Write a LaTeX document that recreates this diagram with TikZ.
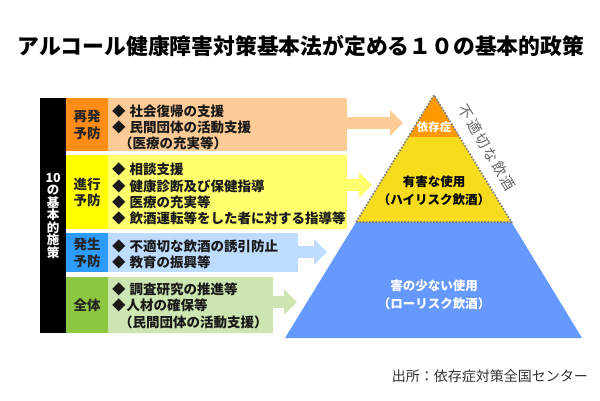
\documentclass[tikz,border=0pt]{standalone}
\usepackage{fontspec}
\setmainfont{Noto Sans CJK JP}
\usetikzlibrary{arrows.meta,calc}
\definecolor{lorange}{RGB}{253,203,150}
\definecolor{dorange}{RGB}{255,140,20}
\definecolor{lyellow}{RGB}{255,255,110}
\definecolor{dyellow}{RGB}{255,255,0}
\definecolor{lblue}{RGB}{190,220,255}
\definecolor{dblue}{RGB}{46,155,255}
\definecolor{lgreen}{RGB}{205,229,176}
\definecolor{dgreen}{RGB}{141,198,63}
\definecolor{porange}{RGB}{255,153,0}
\definecolor{pyellow}{RGB}{247,220,30}
\definecolor{pblue}{RGB}{102,153,255}
\definecolor{dotgray}{RGB}{130,130,130}
\tikzset{
  lab/.style={rectangle, inner sep=0pt, anchor=north west, align=center,
    font=\bfseries\fontsize{13.5}{16.5}\selectfont, text=black!85},
  lightbox/.style={rectangle, inner sep=0pt, anchor=north west},
  item/.style={anchor=west, inner sep=0pt, font=\bfseries\fontsize{13.5}{15}\selectfont, text=black!90},
  barrow/.style={line width=12pt, -{Triangle[width=25pt,length=13pt]}},
  plab/.style={inner sep=0pt, align=center, font=\bfseries\fontsize{12.5}{17.6}\selectfont},
  dotline/.style={draw=dotgray, line width=1.8pt, dash pattern=on 1.6pt off 1.6pt},
  slant/.style={inner sep=0pt, rotate=-59.4, text=black!60, font=\fontsize{14.5}{16}\selectfont}
}
\begin{document}
\begin{tikzpicture}[x=1pt,y=-1pt]
\useasboundingbox (0,0) rectangle (600,400);
\fill[white] (0,0) rectangle (600,400);

% title
\node[inner sep=0pt, font=\bfseries\fontsize{21.8}{24}\selectfont] (title) at (301,46)
  {アルコール健康障害対策基本法が定める１０の基本的政策};

% left black bar
\node[lightbox, fill=black, minimum width=26pt, minimum height=235pt, text=white,
  align=center, font=\bfseries\fontsize{12.5}{12.5}\selectfont] (bar) at (40,98)
  {10\\の\\基\\本\\的\\施\\策};

% light boxes
\node[lightbox, fill=lorange, minimum width=239pt, minimum height=53pt] (lo) at (108,98) {};
\node[lightbox, fill=lyellow, minimum width=239pt, minimum height=74pt] (ly) at (108,155) {};
\node[lightbox, fill=lblue, minimum width=190pt, minimum height=39pt] (lb) at (108,233) {};
\node[lightbox, fill=lgreen, minimum width=165pt, minimum height=56pt] (lg) at (108,277) {};

% label boxes
\node[lab, fill=dorange, minimum width=42pt, minimum height=53pt] (ro) at (66,98) {再発\\予防};
\node[lab, fill=dyellow, minimum width=42pt, minimum height=74pt] (ry) at (66,155) {進行\\予防};
\node[lab, fill=dblue, minimum width=42pt, minimum height=39pt] (rb) at (66,233) {発生\\予防};
\node[lab, fill=dgreen, minimum width=42pt, minimum height=56pt] (rg) at (66,277) {全体};

% items
\node[item] (o1) at (112,111) {◆\hspace{4pt}社会復帰の支援};
\node[item] (o2) at (112,127) {◆\hspace{4pt}民間団体の活動支援};
\node[item] (o3) at (119,143) {（医療の充実等）};
\node[item] (y1) at (112,169) {◆\hspace{4pt}相談支援};
\node[item] (y2) at (112,186) {◆\hspace{4pt}健康診断及び保健指導};
\node[item] (y3) at (112,202) {◆\hspace{4pt}医療の充実等};
\node[item] (y4) at (112,218) {◆\hspace{4pt}飲酒運転等をした者に対する指導等};
\node[item] (b1) at (112,246) {◆\hspace{4pt}不適切な飲酒の誘引防止};
\node[item] (b2) at (112,262) {◆\hspace{4pt}教育の振興等};
\node[item] (g1) at (112,289) {◆\hspace{4pt}調査研究の推進等};
\node[item] (g2) at (112,305) {◆\hspace{1pt}人材の確保等};
\node[item] (g3) at (119,322) {（民間団体の活動支援）};

% arrows
\coordinate (tipO) at (403,123);
\coordinate (tipY) at (372,185);
\coordinate (tipB) at (327,252);
\coordinate (tipG) at (297,302);
\draw[barrow, draw=lorange, fill=lorange] ([xshift=-1pt]lo.east |- tipO) -- (tipO);
\draw[barrow, draw=lyellow, fill=lyellow] ([xshift=-1pt]ly.east |- tipY) -- (tipY);
\draw[barrow, draw=lblue, fill=lblue] ([xshift=-1pt]lb.east |- tipB) -- (tipB);
\draw[barrow, draw=lgreen, fill=lgreen] ([xshift=-1pt]lg.east |- tipG) -- (tipG);

% pyramid
\coordinate (A) at (434,95);
\coordinate (BL) at (285,338);
\coordinate (BR) at (582,338);
\coordinate (L1) at ($(A)!0.1728!(BL)$);
\coordinate (R1) at ($(A)!0.1728!(BR)$);
\coordinate (L2) at ($(A)!0.5226!(BL)$);
\coordinate (R2) at ($(A)!0.5226!(BR)$);
\fill[pblue] (L2) -- (BL) -- (BR) -- (R2) -- cycle;
\fill[pyellow] (L1) -- (L2) -- (R2) -- (R1) -- cycle;
\fill[porange] (A) -- (L1) -- (R1) -- cycle;
\draw[dotline] (L2) -- (A) -- (R2) -- cycle;

\node[plab, text=white, font=\bfseries\fontsize{11.5}{13}\selectfont] (dep) at (434,127) {依存症};
\node[plab, text=black] (harm) at (434,191) {有害な使用\\（ハイリスク飲酒）};
\node[plab, text=white] (low) at (434,294.5) {害の少ない使用\\（ローリスク飲酒）};

% slanted label
\node[slant] (inapp) at (487,147.5) {不\hspace{1.8pt}適\hspace{1.8pt}切\hspace{1.8pt}な\hspace{1.8pt}飲\hspace{1.8pt}酒};

% source
\node[anchor=east, inner sep=0pt, text=black!80, font=\fontsize{14}{15}\selectfont] (src) at (588,376)
  {出所：依存症対策全国センター};
\end{tikzpicture}
\end{document}
